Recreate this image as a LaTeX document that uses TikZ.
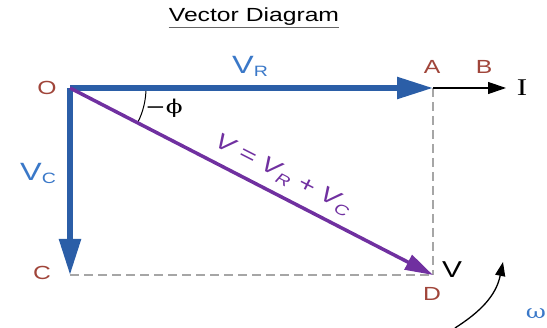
\documentclass[tikz,border=0pt]{standalone}
\usepackage{fontspec}
\usepackage{graphicx}
\setmainfont{Liberation Sans}
\newfontfamily\seriffont{Liberation Serif}
\newfontfamily\dvserif{DejaVu Serif}
\usetikzlibrary{arrows.meta}
\definecolor{vblue}{HTML}{2B5EA7}
\definecolor{lblue}{HTML}{3A78C8}
\definecolor{vpurple}{HTML}{7030A0}
\definecolor{lbrown}{HTML}{A0453A}
\newcommand{\hs}[1]{\scalebox{1.3}[1]{#1}}
\tikzset{
  bluevec/.style={draw=vblue, line width=5.5pt, -{Triangle[length=36pt,width=21pt]}},
  purvec/.style={draw=vpurple, line width=3.5pt, -{Triangle[length=28pt,width=16pt]}},
  thinvec/.style={draw=black, line width=1.2pt, -{Triangle[length=18pt,width=12pt]}},
  dashline/.style={draw=gray!70, line width=1.2pt, dash pattern=on 9pt off 5pt},
  ptlabel/.style={text=lbrown, font=\fontsize{19}{19}\selectfont, inner sep=0pt},
  bluelabel/.style={text=lblue, font=\fontsize{25}{25}\selectfont, inner sep=0pt},
}
\begin{document}
\begin{tikzpicture}[x=1pt,y=-1pt]
\useasboundingbox (0,0) rectangle (547,328);
% title
\node[inner sep=0pt, font=\fontsize{19}{19}\selectfont] (title) at (254,17) {\hs{Vector Diagram}};
\draw[gray!80!black, line width=1.2pt] ([yshift=-1.5pt]title.south west) -- ([yshift=-1.5pt]title.south east);
% points
\coordinate (O) at (70,88);
\coordinate (A) at (433,88);
\coordinate (B) at (506,88);
\coordinate (C) at (70,275);
\coordinate (D) at (433,275);
% dashed lines
\draw[dashline] (A) -- (D);
\draw[dashline] (C) -- (D);
% angle arc
\draw[black, line width=1pt] (O) ++(0:76) arc[start angle=0, end angle=27, radius=76];
% vectors
\draw[thinvec] (A) -- (B);
\draw[bluevec] (O) -- (A);
\draw[bluevec] (O) -- (C);
\draw[purvec] (O) -- (D);
% labels
\node[ptlabel] (lO) at (47,88) {\hs{O}};
\node[ptlabel] (lA) at (432,67) {\hs{A}};
\node[ptlabel] (lB) at (484,67) {\hs{B}};
\node[ptlabel] (lC) at (42,273) {\hs{C}};
\node[ptlabel] (lD) at (432,294) {\hs{D}};
\node[inner sep=0pt, font=\seriffont\fontsize{24}{24}\selectfont] (lI) at (522,88) {\hs{I}};
\node[inner sep=0pt, text=black, font=\fontsize{23}{23}\selectfont] (lV) at (452,270) {\hs{V}};
\node[bluelabel] (lVR) at (250,66) {\hs{V\raisebox{-3pt}{\fontsize{15}{15}\selectfont R}}};
\node[bluelabel] (lVC) at (38,173) {\hs{V\raisebox{-3pt}{\fontsize{15}{15}\selectfont C}}};
\node[inner sep=0pt, font=\dvserif\fontsize{19}{19}\selectfont] (lphi) at (164,108) {\hs{−ϕ}};
\node[text=vpurple, inner sep=0pt, rotate=-27.1, font=\itshape\fontsize{22}{22}\selectfont] (lV2) at (283,175) {\hs{V = V\raisebox{-5pt}{\fontsize{15}{15}\selectfont R} + V\raisebox{-5pt}{\fontsize{15}{15}\selectfont C}}};
% omega arrow
\coordinate (w1) at (455,328);
\coordinate (w2) at (503,262);
\draw[black, line width=1.3pt, -{Triangle[length=14pt,width=10pt]}] (w1) .. controls (480,312) and (496,296) .. (w2);
\node[text=lblue, inner sep=0pt, font=\dvserif\fontsize{19}{19}\selectfont] (lw) at (536,314) {\hs{ω}};
\end{tikzpicture}
\end{document}
